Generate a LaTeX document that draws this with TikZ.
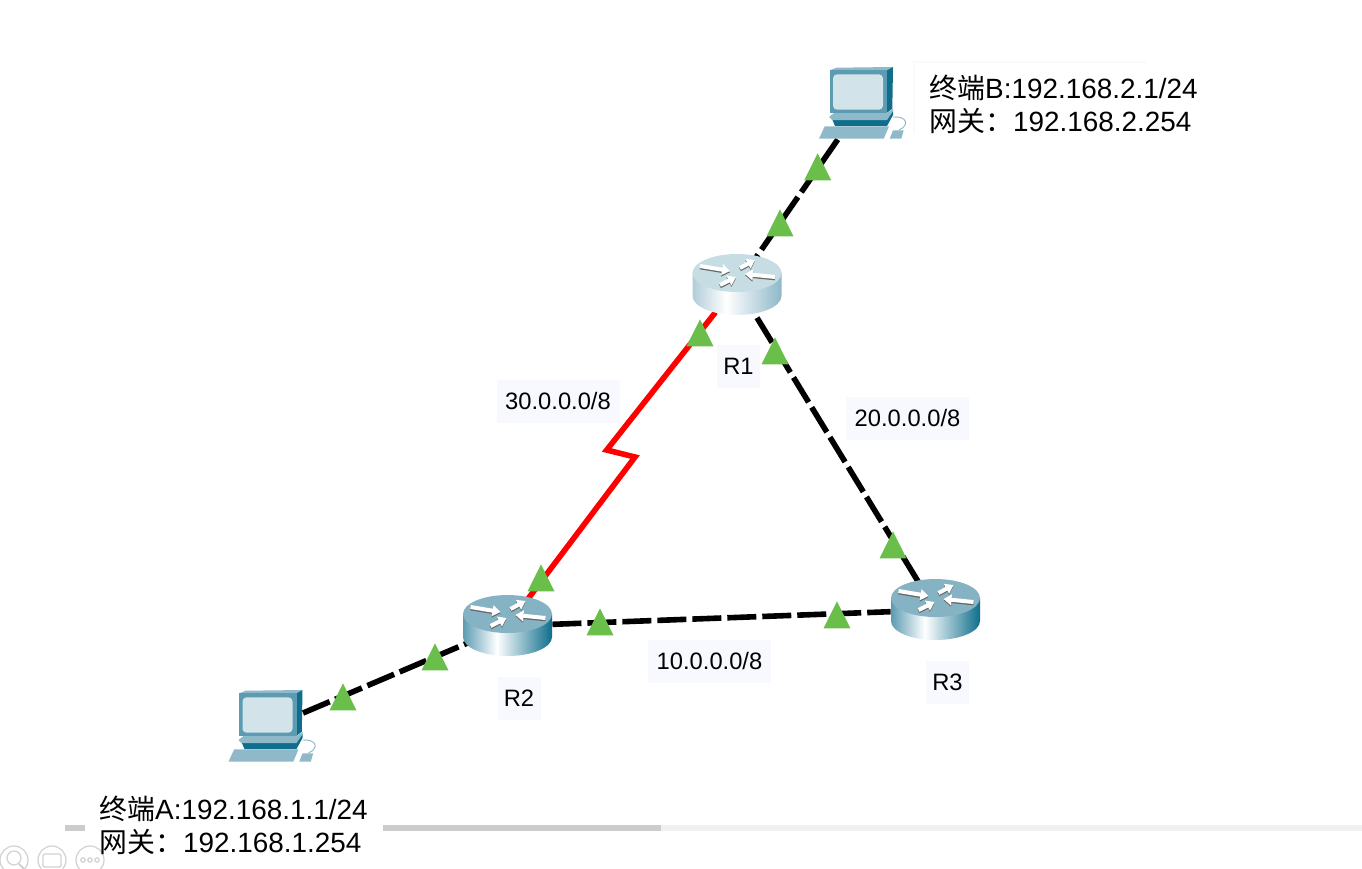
\documentclass[tikz,border=0pt]{standalone}
\usepackage{fontspec}
\setmainfont{Liberation Sans}
\newfontfamily\cjkfont{Noto Sans CJK SC}
\usetikzlibrary{shapes.geometric,arrows.meta}

\definecolor{labelbg}{RGB}{248,248,255}
\definecolor{portgreen}{RGB}{106,191,75}
\definecolor{pcfront}{RGB}{92,155,178}
\definecolor{pcside}{RGB}{15,110,140}
\definecolor{pcscreen}{RGB}{210,227,234}
\definecolor{pclight}{RGB}{143,184,201}
\definecolor{routertoplight}{RGB}{198,221,228}
\definecolor{routertopdark}{RGB}{133,179,196}
\pgfdeclarehorizontalshading{routerlight}{100bp}{color(0bp)=(pclight!70!white); color(25bp)=(pclight!70!white); color(44bp)=(white); color(75bp)=(pclight); color(100bp)=(pclight)}
\pgfdeclarehorizontalshading{routerdark}{100bp}{color(0bp)=(pcfront); color(25bp)=(pcfront); color(44bp)=(white); color(75bp)=(pcside); color(100bp)=(pcside)}

\tikzset{every picture/.style={line width=0.75pt},
  routernode/.style={ellipse,minimum width=66.75pt,minimum height=45.75pt,inner sep=0pt},
  pcnode/.style={rectangle,minimum width=45pt,minimum height=54pt,inner sep=0pt},
  ethlink/.style={line width=4.2pt,black,dash pattern=on 21.75pt off 4.5pt},
  seriallink/.style={line width=4.2pt,red},
  porttri/.style={isosceles triangle,isosceles triangle stretches,shape border rotate=90,fill=portgreen,minimum width=20.25pt,minimum height=20.25pt,inner sep=0pt,anchor=apex},
  labelbox/.style={fill=labelbg,inner sep=0pt,minimum width=92.25pt,minimum height=32.25pt,font=\fontsize{17.8}{20}\selectfont},
  namebox/.style={labelbox,minimum width=32.25pt},
  termtext/.style={anchor=west,align=left,inner sep=0pt,font=\fontsize{20.9}{24.75}\selectfont},
  barcircle/.style={draw=black!18,line width=0.9pt},
  routericon/.pic={
    \begin{scope}[yscale=-1]
    \shade [shading=router#1] (-44.5,-12) -- (-44.5,11) arc [start angle=180,end angle=0,x radius=44.5,y radius=19] -- (44.5,-12) -- cycle ;
    \fill [routertop#1] (0,-12) ellipse [x radius=44.5,y radius=19] ;
    \foreach \ax/\ay/\bx/\by in {-37/-19/-7/-14,38/-8/8/-11,3/-17/18/-25,-17/0/-1/-8}{
      \draw [line width=3pt,black!60,-{Triangle[length=6pt,width=8pt]}] (\ax,\ay+1.3) -- (\bx,\by+1.3) ;
      \draw [line width=3pt,white,-{Triangle[length=6pt,width=8pt]}] (\ax,\ay) -- (\bx,\by) ;
    }
    \end{scope}
  },
  pcicon/.pic={
    \begin{scope}[yscale=-1]
    \fill [pclight] (-33.3,-32.7) -- (-26.7,-35.3) -- (30,-36) -- (24,-32.7) -- cycle ;
    \fill [pcside] (24,-32.7) -- (30,-36) -- (29.3,5.7) -- (24,9.7) -- cycle ;
    \fill [pcfront] (-33.3,-32.7) rectangle (24,9.7) ;
    \fill [pcscreen,rounded corners=3pt] (-30,-28.7) rectangle (20,6.7) ;
    \fill [pcside] (-31,16) -- (24,16) -- (30,8) -- (30,12) -- (24,23) -- (-28,23) -- cycle ;
    \fill [pcfront!70!white] (-34,14) -- (-29,10) -- (24,10) -- (30,6) -- (30,8) -- (24,17) -- (-31,17) -- cycle ;
    \fill [pclight] (-44,35.7) -- (-38.3,23.3) -- (26,23.3) -- (20.7,35.7) -- cycle ;
    \fill [pclight] (26.7,35.7) -- (30,27.3) -- (40.7,27.3) -- (38.3,35.7) -- cycle ;
    \draw [pclight,line width=0.7pt] (30,14) .. controls (44,13) and (47,22) .. (36,27) ;
    \end{scope}
  }
}

\begin{document}
\begin{tikzpicture}[x=0.75pt,y=0.75pt,yscale=-1,xscale=1]
\useasboundingbox (0,0) rectangle (1362,868);

%Scroll Bar
\fill [black!20] (65,825) rectangle (85,831) ;
\fill [black!20] (383,825) rectangle (661,831) ;
\fill [black!6] (661,825) rectangle (1362,831) ;
%Bar Icons
\draw [barcircle] (14,860) circle (14) ;
\draw [barcircle] (14,858) circle (7) ;
\draw [barcircle,line width=1.5pt] (19,864) -- (25,870) ;
\draw [barcircle] (52,860) circle (14) ;
\draw [barcircle,rounded corners=1pt] (43,854) rectangle (61,867) ;
\draw [barcircle] (90,860) circle (14) ;
\draw [barcircle] (83,860) circle (2.2) ;
\draw [barcircle] (90,860) circle (2.2) ;
\draw [barcircle] (97,860) circle (2.2) ;
%Label Ghost Edge
\draw [labelbg,line width=1.5pt] (914,133) -- (914,62) -- (1146,62) ;

%Routers
\node [routernode] (R1) at (737,285) {};
\node [routernode] (R2) at (507.5,626) {};
\node [routernode] (R3) at (935.5,610) {};
%Terminals
\node [pcnode] (PCA) at (272.5,726) {};
\node [pcnode] (PCB) at (863,103) {};

%Links
\coordinate (ZigA) at (606.7,450);
\coordinate (ZigB) at (635,457);
\draw [seriallink] (R1) -- (ZigA) -- (ZigB) -- (R2) ;
\draw [ethlink] (PCB) -- (R1) ;
\draw [ethlink] (R3) -- (R1) ;
\draw [ethlink] (R2) -- (R3) ;
\draw [ethlink] (PCA) -- (R2) ;

%Icons
\pic at (R1) {routericon=light};
\pic at (R2) {routericon=dark};
\pic at (R3) {routericon=dark};
\pic at (PCA) {pcicon};
\pic at (PCB) {pcicon};

%Port Triangles
\node [porttri] (PortB) at (817.7,152) {};
\node [porttri] (PortR1a) at (780,208) {};
\node [porttri] (PortR1b) at (700,318) {};
\node [porttri] (PortR1c) at (775,336) {};
\node [porttri] (PortR3a) at (893,530) {};
\node [porttri] (PortR2a) at (541,563) {};
\node [porttri] (PortR2b) at (600,607) {};
\node [porttri] (PortR3b) at (837,600) {};
\node [porttri] (PortR2c) at (435,642) {};
\node [porttri] (PortA) at (343,682) {};

% Text Node
\draw (558,401) node [labelbox] (Net30) {30.0.0.0/8};
% Text Node
\draw (907.5,418.5) node [labelbox] (Net20) {20.0.0.0/8};
% Text Node
\draw (709.5,661) node [labelbox] (Net10) {10.0.0.0/8};
% Text Node
\draw (738.5,366.5) node [namebox] (NameR1) {R1};
% Text Node
\draw (519,698.5) node [namebox] (NameR2) {R2};
% Text Node
\draw (947.5,682) node [namebox] (NameR3) {R3};
% Text Node
\draw (929,104.5) node [termtext] (TermB) {{\cjkfont 终端}B:192.168.2.1/24\\{\cjkfont 网关：}192.168.2.254};
% Text Node
\draw (99,825) node [termtext] (TermA) {{\cjkfont 终端}A:192.168.1.1/24\\{\cjkfont 网关：}192.168.1.254};

\end{tikzpicture}
\end{document}
